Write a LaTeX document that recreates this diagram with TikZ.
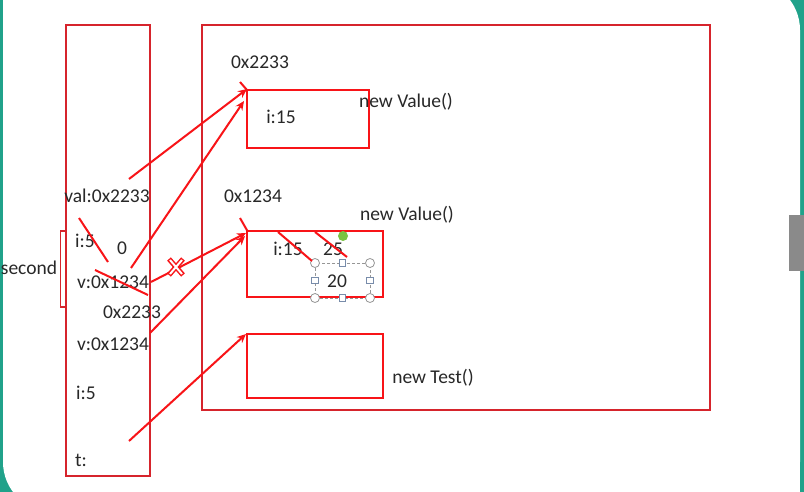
\documentclass[tikz,border=0pt]{standalone}
\usepackage{fontspec}
\setmainfont{Carlito}
\usetikzlibrary{arrows.meta,calc}
\definecolor{bgteal}{RGB}{32,162,138}
\definecolor{tabgrey}{RGB}{138,138,138}
\definecolor{framered}{RGB}{214,36,44}
\definecolor{boxred}{RGB}{248,20,24}
\definecolor{txt}{RGB}{40,40,40}
\definecolor{handlegrey}{RGB}{150,150,150}
\definecolor{handleblue}{RGB}{120,140,170}
\definecolor{rotgreen}{RGB}{122,196,66}
\begin{document}
\begin{tikzpicture}[x=1pt,y=-1pt,
  every node/.style={font=\fontsize{19.5}{22}\selectfont, text=txt, inner sep=0pt},
  bigframe/.style={draw=framered, line width=2.2pt, fill=none},
  objbox/.style={draw=boxred, line width=2.2pt, fill=none},
  arr/.style={draw=boxred, line width=2pt, -{Stealth[length=9pt,width=8pt]}},
  strike/.style={draw=boxred, line width=2pt},
  hcirc/.style={circle, draw=handlegrey, fill=white, line width=0.8pt, minimum size=9pt},
  hsq/.style={rectangle, draw=handleblue, fill=white, line width=0.8pt, minimum size=6.5pt}]
\useasboundingbox (0,0) rectangle (804,492);
% background
\fill[bgteal] (0,0) rectangle (804,492);
\fill[white, rounded corners=50pt] (3,-20) rectangle (800,512);
\fill[white] (3,0) rectangle (120,120);
\fill[white] (680,380) rectangle (800,492);
\fill[tabgrey] (789,215) rectangle (804,271);

% frames
\node[bigframe, minimum width=84pt, minimum height=451pt] (stack) at (108,250.5) {};
\node[bigframe, minimum width=508pt, minimum height=385pt] (heap) at (456,217.5) {};
\node[objbox, minimum width=122pt, minimum height=58pt] (b1) at (308,119) {};
\node[objbox, minimum width=136pt, minimum height=66pt] (b2) at (315,264) {};
\node[objbox, minimum width=136pt, minimum height=64pt] (b3) at (315,366) {};

% heap texts
\node (a1) at (260,62) {0x2233};
\node (nv1) at (406,102) {new Value()};
\node (i1) at (281,117) {i:15};
\node (a2) at (253,196) {0x1234};
\node (nv2) at (407,215) {new Value()};
\node (i2) at (288,249) {i:15};
\node (v25) at (333,249) {25};
\node (v20) at (337,281) {20};
\node (nt) at (433,378) {new Test()};

% stack texts
\node (val) at (107,196) {val:0x2233};
\node (s1) at (85,241) {i:5};
\node (zero) at (122,248) {0};
\node (v1) at (113,282) {v:0x1234};
\node (old) at (132,312) {0x2233};
\node (v2) at (113,344) {v:0x1234};
\node (s2) at (86,393) {i:5};
\node (t) at (81,460) {t:};
\node (sec) at (29,268) {second};

% bracket
\draw[draw=framered, line width=1.3pt] (66,231) -- (60.5,231) -- (60.5,307) -- (66,307);

% selection handles around 20
\draw[handlegrey, line width=0.8pt, dash pattern=on 3pt off 2pt] (315,263) rectangle (370,298);
\node[hsq] (hl) at (315,280.5) {};
\node[hsq] (hr) at (370,280.5) {};
\node[hsq] (ht) at (342.5,263) {};
\node[hsq] (hb) at (342.5,298) {};
\node[hcirc] (c1) at (315,263) {};
\node[hcirc] (c2) at (370,263) {};
\node[hcirc] (c3) at (315,298) {};
\node[hcirc] (c4) at (370,298) {};
\node[circle, fill=rotgreen, minimum size=10pt] (rot) at (343,236) {};

% arrow coordinates
\coordinate (p1) at (129,179);
\coordinate (p2) at (131,268);
\coordinate (p3) at (151,282);
\coordinate (p4) at (150,333);
\coordinate (p5) at (129,441);
\coordinate (e1) at (247,89);
\coordinate (e2) at (244,101);
\coordinate (e3) at (246,233);
\coordinate (e4) at (245,236);
\coordinate (e5) at (246,334);

\draw[arr] (p1) -- (e1);
\draw[arr] (p2) -- (e2);
\draw[arr] (p3) -- (e3);
\draw[arr] (p4) -- (e4);
\draw[arr] (p5) -- (e5);

% cross mark
\coordinate (xm) at (176,267);
\draw[boxred, line width=5pt] ($(xm)+(-7,-8)$) -- ($(xm)+(7,8)$) ($(xm)+(7,-8)$) -- ($(xm)+(-7,8)$);
\draw[white, line width=2pt] ($(xm)+(-6,-7)$) -- ($(xm)+(6,7)$) ($(xm)+(6,-7)$) -- ($(xm)+(-6,7)$);

% strike-throughs
\draw[strike] (79,218) -- (108,262);
\draw[strike] (95,270) -- (148,295);
\draw[strike] (240,82) -- (247,90);
\draw[strike] (240,218) -- (248,232);
\draw[strike] (278,232) -- (312,261);
\draw[strike] (315,232) -- (347,257);
\end{tikzpicture}
\end{document}
